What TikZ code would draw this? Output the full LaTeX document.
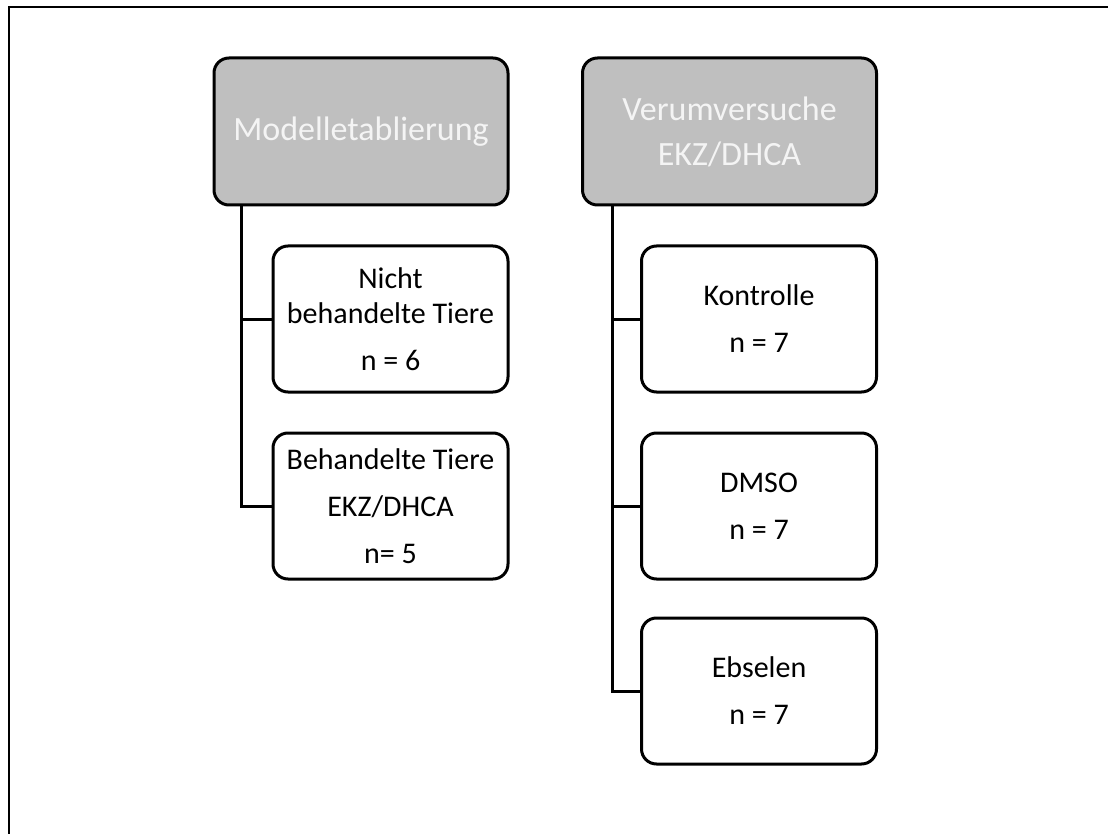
\documentclass[tikz,border=0pt]{standalone}
\usepackage{fontspec}
\setmainfont{Carlito}
\usepackage{tikz}
\usetikzlibrary{positioning}
\definecolor{headgray}{HTML}{BFBFBF}
\definecolor{headtext}{HTML}{F4F4F4}
\tikzstyle{head} = [draw, rectangle, rounded corners=15pt, fill=headgray, text=headtext, line width=3pt, minimum width=294pt, minimum height=147pt, align=center, font=\fontsize{34}{40}\selectfont]
\tikzstyle{group} = [draw, rectangle, rounded corners=15pt, fill=white, line width=3pt, minimum width=235pt, minimum height=146pt, align=center, font=\fontsize{30}{35}\selectfont]
\tikzstyle{branch} = [draw, line width=3pt]

\begin{document}
\begin{tikzpicture}[x=1pt, y=-1pt, node distance=38pt]
    \useasboundingbox (0,0) rectangle (1108,834);
    % frame round the picture
    \draw [line width=2pt] (1110,7) -- (8.5,7) -- (8.5,836);

    % We start by placing the two head blocks
    \node [head] (modell) at (361,131.5) {Modelletablierung};
    \node [head] (verum) at (729.5,131.5) {Verumversuche\\[5pt]EKZ/DHCA};

    % groups below each head
    \node [group, below=38pt of modell.south east, anchor=north east] (nicht) {Nicht\\behandelte Tiere\\[12pt]n = 6};
    \node [group, below=38pt of nicht.south east, anchor=north east] (behandelt) {Behandelte Tiere\\[12pt]EKZ/DHCA\\[12pt]n= 5};
    \node [group, below=38pt of verum.south east, anchor=north east] (kontrolle) {Kontrolle\\[12pt]n = 7};
    \node [group, below=38pt of kontrolle.south east, anchor=north east] (dmso) {DMSO\\[12pt]n = 7};
    \node [group, below=36pt of dmso.south east, anchor=north east] (ebselen) {Ebselen\\[12pt]n = 7};

    % Once the nodes are placed, the branches are easy.
    \coordinate (mtrunk) at ([xshift=29pt]modell.south west);
    \coordinate (vtrunk) at ([xshift=31pt]verum.south west);
    \draw [branch] (mtrunk) |- (nicht.west);
    \draw [branch] (mtrunk) |- (behandelt.west);
    \draw [branch] (vtrunk) |- (kontrolle.west);
    \draw [branch] (vtrunk) |- (dmso.west);
    \draw [branch] (vtrunk) |- (ebselen.west);
\end{tikzpicture}
\end{document}
